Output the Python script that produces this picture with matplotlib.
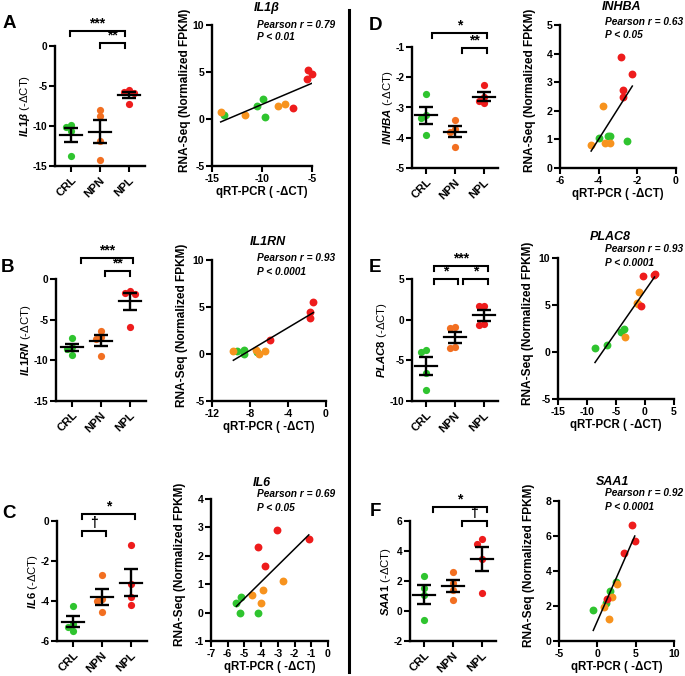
import numpy as np
import matplotlib
matplotlib.use('Agg')
import matplotlib.pyplot as plt
import matplotlib.transforms as mtransforms
from matplotlib.lines import Line2D

W, H = 685, 676

plt.rcParams['font.family'] = ['Liberation Sans', 'DejaVu Sans']
plt.rcParams['font.weight'] = 'bold'
plt.rcParams['axes.unicode_minus'] = False
plt.rcParams['mathtext.fontset'] = 'custom'
plt.rcParams['mathtext.it'] = 'Liberation Sans:italic:bold'
plt.rcParams['mathtext.rm'] = 'Liberation Sans'
plt.rcParams['mathtext.bf'] = 'Liberation Sans:bold'

GROUPS = ['CRL', 'NPN', 'NPL']
DOT_COLORS = ['#2fc42f', '#f26f21', '#ee1c1c']
SC_COLORS = ['#2fc42f', '#f7931e', '#ee1c1c']

# ---- qRT-PCR (-dCT) per group ----
IL1B_CRL = [-9.9, -10.1, -10.6, -13.8]
IL1B_NPN = [-8.0, -8.7, -11.9, -14.2]
IL1B_NPL = [-5.5, -5.8, -5.9, -7.3]

IL1RN_CRL = [-7.3, -8.3, -8.6, -9.4]
IL1RN_NPN = [-6.4, -7.1, -7.4, -9.5]
IL1RN_NPL = [-1.5, -1.7, -1.8, -5.9]

IL6_CRL = [-4.24, -5.15, -5.3, -5.48]
IL6_NPN = [-2.7, -3.9, -4.0, -4.55]
IL6_NPL = [-1.2, -3.14, -3.8, -4.2]

INHBA_CRL = [-2.55, -3.25, -3.35, -3.9]
INHBA_NPN = [-3.4, -3.7, -3.8, -4.3]
INHBA_NPL = [-2.25, -2.65, -2.8, -2.85]

PLAC8_CRL = [-3.7, -4.0, -6.5, -8.6]
PLAC8_NPN = [-0.86, -1.07, -3.3, -3.5]
PLAC8_NPL = [1.68, 1.68, -0.53, -0.66]

SAA1_CRL = [2.35, 1.55, 1.05, -0.6]
SAA1_NPN = [2.6, 1.9, 1.4, 0.75]
SAA1_NPL = [4.8, 4.47, 3.45, 1.23]

# ---- correlation: qRT-PCR (x) vs RNA-Seq FPKM (y), per group ----
IL1B_X_CRL = [-13.8, -10.5, -9.9, -9.75]
IL1B_Y_CRL = [0.4, 1.35, 2.1, 0.2]
IL1B_X_NPN = [-14.13, -11.7, -8.4, -7.7]
IL1B_Y_NPN = [0.75, 0.45, 1.35, 1.6]
IL1B_X_NPL = [-6.9, -5.43, -5.5, -4.97]
IL1B_Y_NPL = [1.2, 5.2, 4.3, 4.8]

IL1RN_X_CRL = [-9.4, -8.6, -8.6, -7.23]
IL1RN_Y_CRL = [0.35, 0.43, -0.04, 0.2]
IL1RN_X_NPN = [-9.75, -7.37, -7.05, -6.42]
IL1RN_Y_NPN = [0.35, 0.43, -0.04, 0.32]
IL1RN_X_NPL = [-5.9, -1.68, -1.68, -1.33]
IL1RN_Y_NPL = [1.5, 3.8, 4.5, 5.5]

IL6_X_CRL = [-5.48, -5.2, -5.28, -4.2]
IL6_Y_CRL = [0.35, 0.56, 0.0, 0.0]
IL6_X_NPN = [-4.55, -3.9, -4.02, -2.7]
IL6_Y_NPN = [0.62, 0.79, 0.35, 1.12]
IL6_X_NPL = [-4.2, -3.77, -3.07, -1.15]
IL6_Y_NPL = [2.31, 1.63, 2.92, 2.6]

INHBA_X_CRL = [-3.96, -3.5, -3.43, -2.56]
INHBA_Y_CRL = [1.05, 1.12, 1.12, 0.93]
INHBA_X_NPN = [-4.39, -3.77, -3.68, -3.43]
INHBA_Y_NPN = [0.82, 2.17, 0.89, 0.89]
INHBA_X_NPL = [-2.86, -2.72, -2.74, -2.26]
INHBA_Y_NPL = [3.89, 2.72, 2.49, 3.29]

PLAC8_X_CRL = [-8.62, -6.6, -4.16, -3.7]
PLAC8_Y_CRL = [0.4, 0.73, 2.08, 2.43]
PLAC8_X_NPN = [-3.41, -1.38, -0.97, -1.2]
PLAC8_Y_NPN = [1.62, 5.22, 6.39, 5.1]
PLAC8_X_NPL = [-0.39, 1.64, -0.68, 1.5]
PLAC8_Y_NPL = [8.05, 8.34, 4.9, 8.2]

SAA1_X_CRL = [-0.53, 1.11, 1.63, 2.37]
SAA1_Y_CRL = [1.75, 2.18, 2.88, 3.39]
SAA1_X_NPN = [0.85, 1.46, 1.85, 2.63]
SAA1_Y_NPN = [1.94, 1.28, 2.54, 3.28]
SAA1_X_NPL = [1.29, 3.5, 4.49, 4.88]
SAA1_Y_NPL = [2.41, 5.05, 6.65, 5.71]


fig = plt.figure(figsize=(W / 100, H / 100), dpi=100)


def px_rect(x0, y0, x1, y1):
    return [x0 / W, 1 - y1 / H, (x1 - x0) / W, (y1 - y0) / H]


def ftext(x, y, s, **kw):
    fig.text(x / W, 1 - y / H, s, **kw)


def style_axes(ax, labelsize=7.3):
    for s in ('top', 'right'):
        ax.spines[s].set_visible(False)
    for s in ('left', 'bottom'):
        ax.spines[s].set_linewidth(1.7)
    ax.tick_params(direction='out', length=4, width=1.5, labelsize=labelsize, pad=1.5)


def swarm(ypx, step=5.0, mindist=5.0):
    # simple beeswarm: push overlapping dots sideways
    offs = np.zeros(len(ypx))
    placed = []
    for i in np.argsort(-ypx):
        for c in [0, -1, 1, -2, 2]:
            x = c * step
            if all(np.hypot(x - px, ypx[i] - py) >= mindist for px, py in placed):
                break
        offs[i] = x
        placed.append((x, ypx[i]))
    return offs


def bracket(ax, rect, x0, x1, dy, label, size=10):
    h_px = rect[3] - rect[1]
    trans = mtransforms.blended_transform_factory(ax.transData, ax.transAxes)
    yb = 1 + dy / h_px
    yt = yb - 5 / h_px
    ax.plot([x0, x0, x1, x1], [yt, yb, yb, yt], color='k', lw=1.5,
            transform=trans, clip_on=False, solid_joinstyle='miter')
    ax.text((x0 + x1) / 2, yb + 0.5 / h_px, label, transform=trans, ha='center',
            va='bottom', fontsize=size, fontweight='bold')


def dot_panel(rect, data, ylim, yticks, gene, xlim, brackets):
    ax = fig.add_axes(px_rect(*rect))
    w_px = rect[2] - rect[0]
    h_px = rect[3] - rect[1]
    ppy = h_px / (ylim[1] - ylim[0])
    ppx = w_px / (xlim[1] - xlim[0])
    for i, (vals, col) in enumerate(zip(data, DOT_COLORS)):
        vals = np.asarray(vals, float)
        offs = swarm(vals * ppy) / ppx
        ax.scatter(i + offs, vals, s=27, color=col, linewidths=0, zorder=2, clip_on=False)
        m = vals.mean()
        se = vals.std(ddof=1) / np.sqrt(len(vals))
        ax.plot([i - 0.38, i + 0.38], [m, m], color='k', lw=1.6, zorder=3)
        ax.errorbar(i, m, yerr=se, fmt='none', ecolor='k', elinewidth=1.7,
                    capsize=5, capthick=1.7, zorder=3)
    ax.set_xlim(xlim)
    ax.set_ylim(ylim)
    ax.set_yticks(yticks)
    ax.set_yticklabels([str(t) for t in yticks])
    ax.set_xticks(range(3))
    style_axes(ax)
    ax.set_xticklabels(GROUPS, rotation=45, ha='right', va='top',
                       rotation_mode='anchor', fontsize=8.2)
    ax.tick_params(axis='x', pad=2.5)
    ax.set_ylabel('$\\mathit{' + gene + '}$ (-ΔCT)', fontsize=8.2,
                  fontweight='normal', labelpad=0.5)
    for x0, x1, dy, lab in brackets:
        bracket(ax, rect, x0, x1, dy, lab)
    return ax


def scatter_panel(rect, xs, ys, xlim, ylim, xticks, yticks):
    ax = fig.add_axes(px_rect(*rect))
    for x, y, c in zip(xs, ys, SC_COLORS):
        ax.scatter(x, y, s=32, color=c, linewidths=0, zorder=2, clip_on=False)
    allx = np.concatenate([np.asarray(v, float) for v in xs])
    ally = np.concatenate([np.asarray(v, float) for v in ys])
    k, b = np.polyfit(allx, ally, 1)
    xx = np.array([allx.min(), allx.max()])
    ax.plot(xx, k * xx + b, color='k', lw=1.1, zorder=3)
    ax.set_xlim(xlim)
    ax.set_ylim(ylim)
    ax.set_xticks(xticks)
    ax.set_xticklabels([str(t) for t in xticks])
    ax.set_yticks(yticks)
    ax.set_yticklabels([str(t) for t in yticks])
    style_axes(ax, labelsize=7.6)
    ax.set_xlabel('qRT-PCR ( -ΔCT)', fontsize=8.3, fontweight='bold', labelpad=2)
    ax.set_ylabel('RNA-Seq (Normalized FPKM)', fontsize=8.6, fontweight='bold', labelpad=2)
    ax.yaxis.set_label_coords(-0.21, 0.54)
    return ax


def corr_text(tx, ty, title, px, r, p, py1, py2):
    ftext(tx, ty, title, fontsize=9, fontweight='bold', fontstyle='italic',
          ha='center', va='center')
    ftext(px, py1, 'Pearson r = ' + r, fontsize=7.3, fontweight='bold',
          fontstyle='italic', ha='left', va='center')
    ftext(px, py2, 'P < ' + p, fontsize=7.3, fontweight='bold',
          fontstyle='italic', ha='left', va='center')


LEFT_X = (-0.55, 2.55)
RIGHT_X = (-0.5, 2.5)

# A
dot_panel((55, 46, 145, 166), [IL1B_CRL, IL1B_NPN, IL1B_NPL], (-15, 0), [0, -5, -10, -15],
          'IL1\\beta', LEFT_X, [(-0.05, 1.85, 15, '***'), (1.0, 1.85, 3, '**')])
scatter_panel((212, 25, 312, 166), [IL1B_X_CRL, IL1B_X_NPN, IL1B_X_NPL],
              [IL1B_Y_CRL, IL1B_Y_NPN, IL1B_Y_NPL], (-15, -5), (-5, 10),
              [-15, -10, -5], [10, 5, 0, -5])
corr_text(267, 8, 'IL1β', 257, '0.79', '0.01', 25, 37)

# B
dot_panel((56, 279, 146, 401), [IL1RN_CRL, IL1RN_NPN, IL1RN_NPL], (-15, 0), [0, -5, -10, -15],
          'IL1RN', LEFT_X, [(0.3, 2.1, 21, '***'), (1.15, 2.0, 8, '**')])
scatter_panel((212, 260, 326, 401), [IL1RN_X_CRL, IL1RN_X_NPN, IL1RN_X_NPL],
              [IL1RN_Y_CRL, IL1RN_Y_NPN, IL1RN_Y_NPL], (-12, 0), (-5, 10),
              [-12, -8, -4, 0], [10, 5, 0, -5])
corr_text(268, 242, 'IL1RN', 257, '0.93', '0.0001', 258, 272)

# C
dot_panel((57, 521, 147, 641), [IL6_CRL, IL6_NPN, IL6_NPL], (-6, 0), [0, -2, -4, -6],
          'IL6', LEFT_X, [(0.3, 2.15, 7, '*'), (0.3, 1.15, -10, '†')])
scatter_panel((211, 499, 328, 641), [IL6_X_CRL, IL6_X_NPN, IL6_X_NPL],
              [IL6_Y_CRL, IL6_Y_NPN, IL6_Y_NPL], (-7, 0), (-1, 4),
              [-7, -6, -5, -4, -3, -2, -1, 0], [4, 3, 2, 1, 0, -1])
corr_text(262, 483, 'IL6', 257, '0.69', '0.05', 494, 508)

# D
dot_panel((412, 47, 498, 168), [INHBA_CRL, INHBA_NPN, INHBA_NPL], (-5, -1), [-1, -2, -3, -4, -5],
          'INHBA', RIGHT_X, [(0.2, 2.1, 14, '*'), (1.25, 2.1, -1, '**')])
scatter_panel((560, 25, 676, 168), [INHBA_X_CRL, INHBA_X_NPN, INHBA_X_NPL],
              [INHBA_Y_CRL, INHBA_Y_NPN, INHBA_Y_NPL], (-6, 0), (0, 5),
              [-6, -4, -2, 0], [5, 4, 3, 2, 1, 0])
corr_text(622, 7, 'INHBA', 605, '0.63', '0.05', 22, 35)

# E
dot_panel((412, 279, 498, 401), [PLAC8_CRL, PLAC8_NPN, PLAC8_NPL], (-10, 5), [5, 0, -5, -10],
          'PLAC8', RIGHT_X, [(0.28, 2.14, 13, '***'), (0.28, 1.1, 0, '*'), (1.28, 2.14, 0, '*')])
scatter_panel((558, 258, 674, 399), [PLAC8_X_CRL, PLAC8_X_NPN, PLAC8_X_NPL],
              [PLAC8_Y_CRL, PLAC8_Y_NPN, PLAC8_Y_NPL], (-15, 5), (-5, 10),
              [-15, -10, -5, 0, 5], [10, 5, 0, -5])
corr_text(610, 237, 'PLAC8', 605, '0.93', '0.0001', 249, 263)

# F
dot_panel((410, 521, 496, 641), [SAA1_CRL, SAA1_NPN, SAA1_NPL], (-2, 6), [6, 4, 2, 0, -2],
          'SAA1', RIGHT_X, [(0.3, 2.17, 14, '*'), (1.3, 2.17, 0, '†')])
scatter_panel((559, 501, 674, 641), [SAA1_X_CRL, SAA1_X_NPN, SAA1_X_NPL],
              [SAA1_Y_CRL, SAA1_Y_NPN, SAA1_Y_NPL], (-5, 10), (0, 8),
              [-5, 0, 5, 10], [8, 6, 4, 2, 0])
corr_text(613, 482, 'SAA1', 605, '0.92', '0.0001', 493, 507)

# panel letters
for lx, ly, letter in [(9, 23, 'A'), (8, 268, 'B'), (9, 513, 'C'),
                       (375, 25, 'D'), (375, 268, 'E'), (375, 512, 'F')]:
    ftext(lx, ly, letter, fontsize=13.5, fontweight='bold', ha='center', va='center')

# divider between the two columns
fig.add_artist(Line2D([349 / W, 349 / W], [1 - 10 / H, 1 - 672 / H], color='k', lw=2.2))

fig.savefig('out.png', dpi=100)
